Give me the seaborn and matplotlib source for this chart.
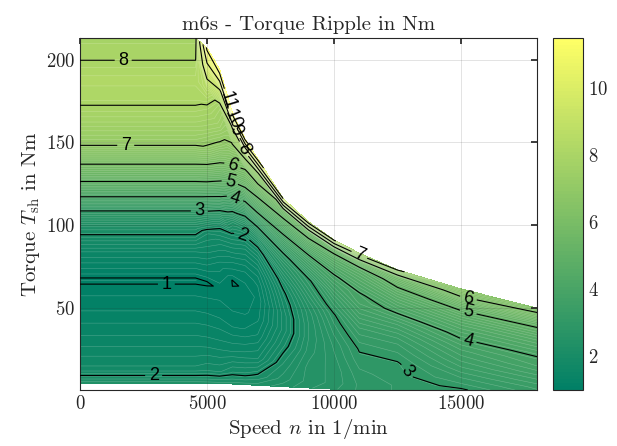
import numpy as np
import matplotlib
matplotlib.use("Agg")
import matplotlib.pyplot as plt
from matplotlib.ticker import MultipleLocator
import seaborn as sns

# operating grid: speed columns, torque limits per column, load fraction rows
speed = np.array([0, 4550, 5000, 5500, 6000, 6500, 7000, 8000, 9000, 10000, 11000, 12500, 15000, 18000])
t_max = np.array([213, 213, 207, 194, 168, 152, 140, 116, 102, 91, 83, 73, 61.5, 49.8])
t_min = np.array([4.6, 4.6, 4.4, 4.2, 4.0, 3.6, 3.2, 2.4, 1.6, 0.9, 0.4, 0.4, 0.4, 0.4])
load_frac = np.array([0, 0.04, 0.12, 0.22, 0.3, 0.38, 0.45, 0.5, 0.55, 0.6, 0.65, 0.7, 0.76, 0.82, 0.88, 0.94, 1.0])

# torque ripple in Nm (rows = load_frac, columns = speed)
ripple = np.array([
    [2.30, 2.30, 2.30, 2.30, 2.30, 2.30, 2.30, 2.40, 2.55, 2.65, 2.80, 2.90, 2.97, 3.30],
    [1.75, 1.75, 1.80, 1.80, 1.95, 1.97, 2.05, 2.30, 2.50, 2.60, 2.80, 2.90, 3.05, 3.35],
    [1.45, 1.45, 1.45, 1.45, 1.50, 1.55, 1.60, 2.15, 2.50, 2.60, 2.85, 2.95, 3.20, 3.50],
    [1.15, 1.15, 1.15, 1.15, 1.15, 1.20, 1.30, 1.90, 2.40, 2.65, 2.95, 2.98, 3.40, 3.70],
    [0.97, 0.97, 0.98, 1.02, 1.03, 1.05, 1.15, 1.75, 2.35, 2.70, 3.02, 3.08, 3.55, 3.85],
    [1.50, 1.50, 1.45, 1.25, 0.99, 1.01, 1.10, 1.75, 2.35, 2.80, 3.15, 3.20, 3.70, 3.95],
    [2.20, 2.20, 1.85, 1.65, 1.30, 1.15, 1.20, 1.85, 2.40, 2.90, 3.30, 3.35, 3.85, 4.08],
    [3.02, 3.02, 2.70, 2.05, 1.60, 1.35, 1.35, 1.95, 2.50, 2.98, 3.45, 3.50, 3.98, 4.20],
    [4.25, 4.25, 3.85, 2.98, 1.95, 1.60, 1.60, 2.10, 2.65, 3.15, 3.60, 3.65, 4.10, 4.32],
    [5.35, 5.35, 4.98, 4.10, 2.40, 1.95, 1.90, 2.35, 2.80, 3.30, 3.75, 3.85, 4.25, 4.45],
    [6.30, 6.30, 5.95, 5.10, 3.25, 2.50, 2.40, 2.60, 2.95, 3.50, 3.90, 4.05, 4.40, 4.60],
    [7.20, 7.20, 6.90, 5.95, 4.25, 3.20, 3.02, 2.90, 3.30, 3.70, 3.95, 4.25, 4.60, 4.78],
    [7.70, 7.70, 7.50, 6.90, 5.30, 4.25, 3.98, 3.50, 3.70, 3.95, 4.20, 4.50, 4.85, 4.98],
    [8.10, 8.10, 7.90, 7.50, 6.20, 5.30, 4.85, 4.10, 4.15, 4.30, 4.45, 4.80, 5.20, 5.25],
    [8.25, 8.25, 8.50, 7.70, 6.95, 6.05, 5.80, 4.80, 4.75, 4.70, 4.75, 5.15, 5.60, 5.60],
    [7.98, 7.98, 9.60, 9.10, 7.90, 7.50, 7.02, 5.60, 5.50, 5.35, 5.60, 5.60, 6.15, 5.95],
    [7.85, 7.85, 11.20, 11.50, 11.50, 11.20, 10.30, 9.00, 8.40, 8.05, 7.40, 7.05, 6.60, 6.35],
])

# where the contour labels sit (speed, torque) - layout only
label_spots = {
    1: [(3400, 66)],
    2: [(2900, 9), (6400, 94)],
    3: [(4700, 109), (12900, 12)],
    4: [(6100, 116), (15300, 31)],
    5: [(5900, 126), (15300, 48)],
    6: [(6000, 136), (15300, 56)],
    7: [(1800, 148), (11000, 82)],
    8: [(1700, 200), (6450, 146)],
    9: [(6250, 158)],
    10: [(6050, 164)],
    11: [(5850, 175)],
}

sns.set_theme(style="white")
plt.rcParams['font.family'] = ['cmr10']
plt.rcParams['mathtext.fontset'] = 'cm'
plt.rcParams['axes.formatter.use_mathtext'] = True

X = np.tile(speed, (len(load_frac), 1))
Y = t_min[None, :] + load_frac[:, None] * (t_max - t_min)[None, :]

fig = plt.figure(figsize=(6.17, 4.46), dpi=100)
ax = fig.add_axes([0.1297, 0.1256, 0.7407, 0.7892])
cax = fig.add_axes([0.8963, 0.1256, 0.0486, 0.7892])

fill_levels = np.linspace(ripple.min(), ripple.max(), 100)
cf = ax.contourf(X, Y, ripple, levels=fill_levels, cmap='summer', zorder=1)
ax.contour(X, Y, ripple, levels=fill_levels, colors='white', linewidths=0.4, alpha=0.25, zorder=1.5)

# one black contour per labelled level
for lev, spots in label_spots.items():
    cl = ax.contour(X, Y, ripple, levels=[lev], colors='black', linewidths=0.8, zorder=3)
    txts = ax.clabel(cl, fmt='%d', fontsize=13, inline=True, inline_spacing=4, manual=spots)
    for t in txts:
        t.set_fontfamily('Liberation Sans')

ax.set_xlim(0, 18000)
ax.set_ylim(t_min.min(), t_max.max())
ax.xaxis.set_major_locator(MultipleLocator(5000))
ax.yaxis.set_major_locator(MultipleLocator(50))
ax.grid(True, color='0.15', alpha=0.15, linewidth=0.6)
ax.set_axisbelow(False)
ax.tick_params(direction='in', top=True, right=True, length=4, labelsize=13.5, colors='0.15')
for s in ax.spines.values():
    s.set_color('0.15')
    s.set_linewidth(0.8)

ax.set_title('m6s - Torque Ripple in Nm', fontsize=15, pad=6)
ax.set_xlabel('Speed $n$ in 1/min', fontsize=15, labelpad=3)
ax.set_ylabel('Torque $T_\\mathrm{sh}$ in Nm', fontsize=15, labelpad=3)

cb = fig.colorbar(cf, cax=cax, ticks=[2, 4, 6, 8, 10])
cb.ax.tick_params(direction='in', length=4, labelsize=13.5, colors='0.15')
cb.outline.set_edgecolor('0.15')
cb.outline.set_linewidth(0.8)

fig.savefig('out.png', dpi=100)
